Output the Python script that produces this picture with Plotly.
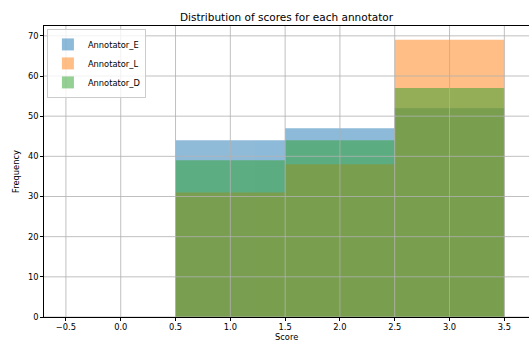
import plotly.graph_objects as go

scores = [0, 1, 2, 3]
annotator_e = [0, 44, 47, 52]
annotator_l = [0, 31, 38, 69]
annotator_d = [0, 39, 44, 57]
series_names = ["Annotator_E", "Annotator_L", "Annotator_D"]
colors = ["#1f77b4", "#ff7f0e", "#2ca02c"]
x_ticks = [-0.5, 0.0, 0.5, 1.0, 1.5, 2.0, 2.5, 3.0, 3.5]
x_tick_labels = ["\u22120.5", "0.0", "0.5", "1.0", "1.5", "2.0", "2.5", "3.0", "3.5"]
y_ticks = [0, 10, 20, 30, 40, 50, 60, 70]

FONT = "DejaVu Sans"
fig = go.Figure()
for name, vals, col in zip(series_names, [annotator_e, annotator_l, annotator_d], colors):
    fig.add_trace(go.Bar(
        x=scores, y=vals, width=1.0, name=name,
        marker=dict(color=col, line=dict(width=0)),
        opacity=0.5,
    ))

# grid lines drawn above bars (matplotlib style)
shapes = []
for t in x_ticks:
    shapes.append(dict(type="line", xref="x", yref="paper", x0=t, x1=t, y0=0, y1=1,
                       line=dict(color="#b0b0b0", width=0.8), layer="above"))
for t in y_ticks:
    shapes.append(dict(type="line", xref="paper", yref="y", x0=0, x1=1, y0=t, y1=t,
                       line=dict(color="#b0b0b0", width=0.8), layer="above"))

fig.update_layout(
    width=529, height=341,
    margin=dict(l=44, r=0, t=26, b=24, autoexpand=False),
    barmode="overlay",
    paper_bgcolor="white", plot_bgcolor="white",
    font=dict(family=FONT, size=8.3, color="#000000"),
    title=dict(text="Distribution of scores for each annotator", x=0.5, xanchor="center",
               xref="paper", y=1 - 17 / 341, yref="container", yanchor="middle",
               font=dict(family=FONT, size=10.5, color="#000000")),
    shapes=shapes,
    annotations=[dict(text="Score", xref="paper", yref="paper", x=0.5, y=-20 / 291,
                      xanchor="center", yanchor="middle", showarrow=False,
                      font=dict(family=FONT, size=8.3, color="#000000"))],
    showlegend=True,
    legend=dict(x=0.006, y=0.99, xanchor="left", yanchor="top",
                bgcolor="rgba(255,255,255,0.8)", bordercolor="#cccccc", borderwidth=1,
                font=dict(family=FONT, size=8.3, color="#000000"),
                tracegroupgap=0, itemwidth=30),
    xaxis=dict(range=[-0.7, 3.725], tickvals=x_ticks, ticktext=x_tick_labels,
               showgrid=False, zeroline=False, automargin=False,
               showline=True, linecolor="#000000", linewidth=0.8, mirror=True,
               ticks="outside", ticklen=3, tickwidth=0.8, tickcolor="#000000",
               ticklabelstandoff=-1),
    yaxis=dict(range=[0, 72.45], tickvals=y_ticks,
               showgrid=False, zeroline=False, automargin=False,
               showline=True, linecolor="#000000", linewidth=0.8, mirror=False,
               ticks="outside", ticklen=3, tickwidth=0.8, tickcolor="#000000",
               title=dict(text="Frequency", standoff=6, font=dict(family=FONT, size=8.3))),
)

fig.write_html("out.html",
               config={"displayModeBar": False},
               post_script="document.body.style.margin='0px';document.body.style.overflow='hidden';")
